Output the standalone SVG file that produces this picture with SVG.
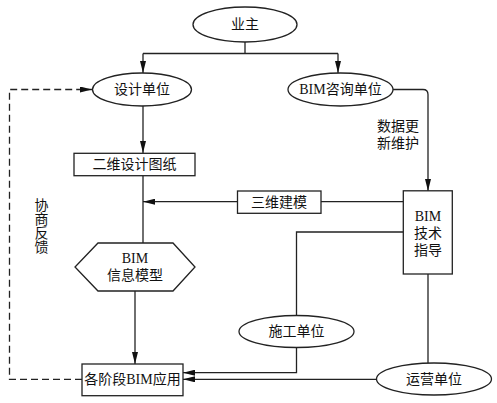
<svg xmlns="http://www.w3.org/2000/svg" width="497" height="403" viewBox="0 0 497 403">
<style>
.s{fill:#fff;stroke:#222;stroke-width:1.3}
.c{fill:none;stroke:#222;stroke-width:1.3}
.d{fill:none;stroke:#222;stroke-width:1.3;stroke-dasharray:7,4}
text{font-family:"Liberation Serif","Noto Sans CJK SC",serif;font-size:14px;fill:#111;text-anchor:middle;dominant-baseline:central}
</style>
<defs>
<marker id="a" viewBox="0 0 12 6" refX="12" refY="3" markerWidth="12" markerHeight="6" markerUnits="userSpaceOnUse" orient="auto">
<path d="M0,0 L12,3 L0,6 Z" fill="#111"/>
</marker>
</defs>
<g id="connectors">
<path class="c" d="M245,42 V53.5 M143,53.5 H338"/>
<path class="c" d="M143,53.5 V73" marker-end="url(#a)"/>
<path class="c" d="M338,53.5 V73" marker-end="url(#a)"/>
<path class="c" d="M393,89.5 H423 Q428,89.5 428,94.5 V191" marker-end="url(#a)"/>
<path class="c" d="M143,106 V153" marker-end="url(#a)"/>
<path class="c" d="M143,176 V243"/>
<path class="c" d="M321,201.7 H403"/>
<path class="c" d="M237,201.7 H143" marker-end="url(#a)"/>
<path class="c" d="M135,291 V364" marker-end="url(#a)"/>
<path class="c" d="M403,232 H296.5 V315.5"/>
<path class="c" d="M296.5,347.5 V372.7 H183" marker-end="url(#a)"/>
<path class="c" d="M428,274 V363"/>
<path class="c" d="M376.5,379.3 H183" marker-end="url(#a)"/>
<path class="d" d="M82,379.3 H9.5 V89.5 H92" marker-end="url(#a)"/>
</g>
<g id="yezhu"><ellipse class="s" cx="245" cy="24.5" rx="52" ry="17.5"/><text x="245" y="24.5">业主</text></g>
<g id="sheji"><ellipse class="s" cx="142" cy="89.5" rx="49.5" ry="16.5"/><text x="142" y="89.5">设计单位</text></g>
<g id="zixun"><ellipse class="s" cx="340.5" cy="89.5" rx="52.5" ry="16.5"/><text x="340.5" y="89.5">BIM咨询单位</text></g>
<g id="label-update"><text x="398" y="126">数据更</text><text x="398" y="143">新维护</text></g>
<g id="erwei"><rect class="s" x="74" y="153.3" width="121" height="22.4"/><text x="134.5" y="164.5">二维设计图纸</text></g>
<g id="sanwei"><rect class="s" x="237.5" y="191" width="83.5" height="22.3"/><text x="279" y="202.2">三维建模</text></g>
<g id="jishu"><rect class="s" x="403.3" y="190.8" width="49" height="83.2"/><text x="428" y="216">BIM</text><text x="428" y="233">技术</text><text x="428" y="250">指导</text></g>
<g id="model"><polygon class="s" points="98,243 173,243 195,267 173,291 98,291 75,267"/><text x="135" y="258">BIM</text><text x="135" y="275.5">信息模型</text></g>
<g id="shigong"><ellipse class="s" cx="296.5" cy="331.5" rx="57.5" ry="16"/><text x="296.5" y="331.5">施工单位</text></g>
<g id="yunying"><ellipse class="s" cx="434" cy="379" rx="57.5" ry="16"/><text x="434" y="379">运营单位</text></g>
<g id="yingyong"><rect class="s" x="82" y="364" width="101" height="31.7"/><text x="132.5" y="379.8">各阶段BIM应用</text></g>
<g id="label-feedback"><text x="41.5" y="205">协</text><text x="41.5" y="219">商</text><text x="41.5" y="233">反</text><text x="41.5" y="247">馈</text></g>
</svg>
